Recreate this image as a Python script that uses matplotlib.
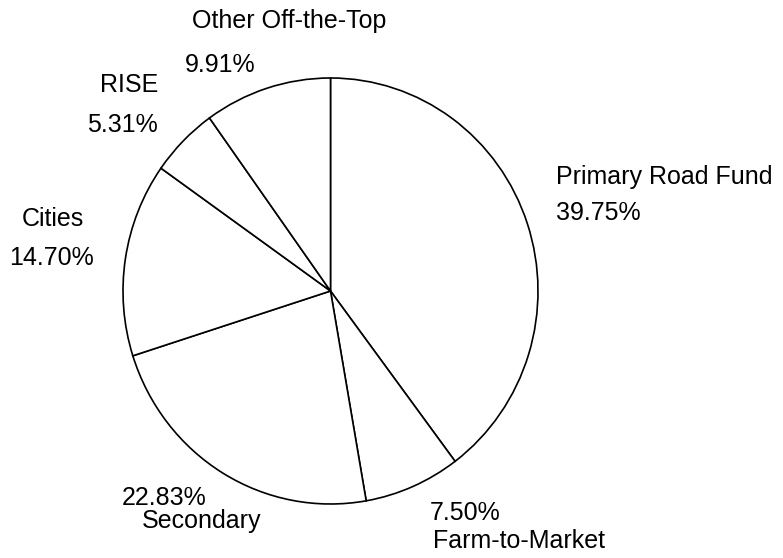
import matplotlib
matplotlib.use("Agg")
import matplotlib.pyplot as plt

categories = ["Primary Road Fund", "Farm-to-Market", "Secondary", "Cities", "RISE", "Other Off-the-Top"]
shares = [39.75, 7.50, 22.83, 14.70, 5.31, 9.91]
pct_labels = ["39.75%", "7.50%", "22.83%", "14.70%", "5.31%", "9.91%"]

W, H = 783, 558
fig = plt.figure(figsize=(W / 100, H / 100), dpi=100)
ax = fig.add_axes([0, 0, 1, 1])

# pie in unit radius; slightly taller than wide, as in the scanned original
cx, cy = 330.5, 291.0     # centre in pixels (from top-left)
rx, ry = 207.5, 213.0     # pixel radii
ax.pie(shares, startangle=90, counterclock=False,
       center=(0, 0), radius=1,
       colors=["white"] * len(shares),
       wedgeprops=dict(edgecolor="black", linewidth=1.2))
ax.set_aspect("auto")
ax.set_xlim(-cx / rx, (W - cx) / rx)
ax.set_ylim(-(H - cy) / ry, cy / ry)
ax.axis("off")

font = dict(family=["Liberation Sans", "DejaVu Sans"], fontsize=18, color="black")

def put(x, y_base, s, ha="left"):
    fig.text(x / W, 1 - y_base / H, s, ha=ha, va="baseline", **font)

put(556, 184, categories[0])
put(556, 220, pct_labels[0])

put(430, 520, pct_labels[1])
put(433, 548, categories[1])

put(122, 505, pct_labels[2])
put(142, 528, categories[2])

put(84, 226, categories[3], ha="right")
put(94, 265, pct_labels[3], ha="right")

put(158, 92, categories[4], ha="right")
put(158, 132, pct_labels[4], ha="right")

put(192, 28, categories[5])
put(185, 72, pct_labels[5])

fig.savefig("out.png", dpi=100, facecolor="white")
